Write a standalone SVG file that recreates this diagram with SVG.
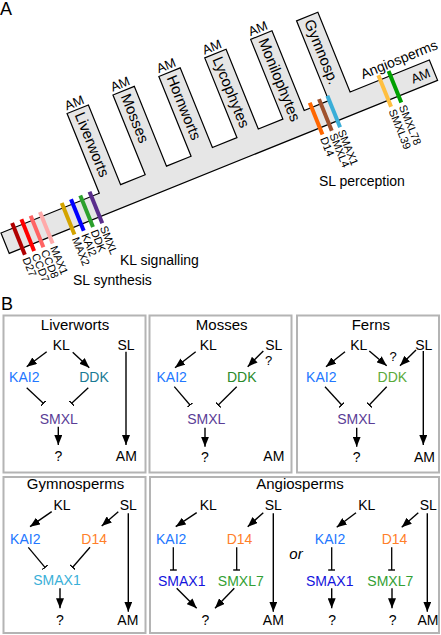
<svg xmlns="http://www.w3.org/2000/svg" width="441" height="635" viewBox="0 0 441 635">
<defs>
<marker id="ah" viewBox="0 0 10 8" refX="10" refY="4" markerWidth="10" markerHeight="8" markerUnits="userSpaceOnUse" orient="auto"><path d="M0,0 L10,4 L0,8 z" fill="#000"/></marker>
<marker id="tb" viewBox="0 0 1.4 7" refX="0.7" refY="3.5" markerWidth="1.4" markerHeight="7" markerUnits="userSpaceOnUse" orient="auto"><rect width="1.4" height="7" fill="#000"/></marker>
</defs>
<style>
text{font-family:"Liberation Sans",Arial,sans-serif;fill:#000}
.pl{font-size:18px}
.tooth{font-size:15px}
.am{font-size:13px}
.gene{font-size:11px}
.cap{font-size:14px}
.title{font-size:15px;text-anchor:middle}
.n{font-size:14px;text-anchor:middle}
.box{fill:#fff;stroke:#b4b4b4;stroke-width:2}
.bar{stroke-width:4}
.act{stroke:#000;stroke-width:1.4;fill:none;marker-end:url(#ah)}
.inh{stroke:#000;stroke-width:1.3;fill:none;marker-end:url(#tb)}
.kai2{fill:#2277ff}
.smxl{fill:#5a3d96}
.d14{fill:#ff7f2a}
</style>

<text class="pl" x="0" y="15">A</text>
<text class="pl" x="1" y="310">B</text>

<!-- Panel A tree (local frame along trunk) -->
<g id="tree" transform="translate(1,233) rotate(-22)">
  <path id="trunk" d="M0,0 H106 V-86 H129 V0 H155.5 V-86 H178.5 V0 H205 V-86 H228 V0 H254.5 V-86 H277.5 V0 H304 V-86 H327 V0 H353.5 V-86 H376.5 V0 H462 V22 H0 Z" fill="#e6e6e6" stroke="#000" stroke-width="1.2"/>
  <g id="clade-liverworts"><text class="am" x="107" y="-89">AM</text><text class="tooth" transform="translate(112.5,-82) rotate(90)">Liverworts</text></g>
  <g id="clade-mosses"><text class="tooth" transform="translate(162,-82) rotate(90)">Mosses</text></g>
  <g id="clade-hornworts"><text class="am" x="156.5" y="-89">AM</text><text class="tooth" transform="translate(211.5,-82) rotate(90)">Hornworts</text></g>
  <g id="clade-lycophytes"><text class="am" x="206" y="-89">AM</text><text class="tooth" transform="translate(261,-82) rotate(90)">Lycophytes</text></g>
  <g id="clade-monilophytes"><text class="am" x="255.5" y="-89">AM</text><text class="tooth" transform="translate(310.5,-82) rotate(90)">Monilophytes</text></g>
  <g id="clade-gymnosp"><text class="am" x="305" y="-89">AM</text><text class="tooth" transform="translate(360,-82) rotate(90)">Gymnosp.</text></g>
  <g id="clade-angiosperms"><text class="cap" x="434" y="-7" text-anchor="middle">Angiosperms</text><text class="am" x="448" y="16" text-anchor="middle">AM</text></g>
  <g id="genes">
    <line class="bar" x1="14" y1="-5" x2="14" y2="29" stroke="#b00000"/>
    <line class="bar" x1="24" y1="-5" x2="24" y2="29" stroke="#ff0000"/>
    <line class="bar" x1="34" y1="-5" x2="34" y2="29" stroke="#ff6464"/>
    <line class="bar" x1="44" y1="-5" x2="44" y2="29" stroke="#ffaaaa"/>
    <line class="bar" x1="67.5" y1="-5" x2="67.5" y2="29" stroke="#d4a400"/>
    <line class="bar" x1="77.5" y1="-5" x2="77.5" y2="29" stroke="#0000ff"/>
    <line class="bar" x1="87.5" y1="-5" x2="87.5" y2="29" stroke="#2ca02c"/>
    <line class="bar" x1="97.5" y1="-5" x2="97.5" y2="29" stroke="#5a2d8c"/>
    <line class="bar" x1="335" y1="-5" x2="335" y2="29" stroke="#ff6600"/>
    <line class="bar" x1="345" y1="-5" x2="345" y2="29" stroke="#a0522d"/>
    <line class="bar" x1="354" y1="-5" x2="354" y2="29" stroke="#3aaed8"/>
    <line class="bar" x1="409" y1="-5" x2="409" y2="29" stroke="#ffbf3f"/>
    <line class="bar" x1="420" y1="-5" x2="420" y2="29" stroke="#00a000"/>
    <text class="gene" transform="translate(10,32) rotate(90)">D27</text>
    <text class="gene" transform="translate(20,32) rotate(90)">CCD7</text>
    <text class="gene" transform="translate(30,32) rotate(90)">CCD8</text>
    <text class="gene" transform="translate(40,32) rotate(90)">MAX1</text>
    <text class="gene" transform="translate(63.5,32) rotate(90)">MAX2</text>
    <text class="gene" transform="translate(73.5,32) rotate(90)">KAI2</text>
    <text class="gene" transform="translate(83.5,32) rotate(90)">DDK</text>
    <text class="gene" transform="translate(93.5,32) rotate(90)">SMXL</text>
    <text class="gene" transform="translate(331,32) rotate(90)">D14</text>
    <text class="gene" transform="translate(341,32) rotate(90)">SMXL4</text>
    <text class="gene" transform="translate(350,32) rotate(90)">SMAX1</text>
    <text class="gene" transform="translate(405,32) rotate(90)">SMXL39</text>
    <text class="gene" transform="translate(416,32) rotate(90)">SMXL78</text>
  </g>
</g>
<text class="cap" x="120" y="265">KL signalling</text>
<text class="cap" x="73" y="285">SL synthesis</text>
<text class="cap" x="319" y="186">SL perception</text>

<!-- Panel B boxes -->
<g id="box-liverworts">
  <rect class="box" x="3.5" y="315.5" width="142" height="157"/>
  <text class="title" x="75" y="330">Liverworts</text>
  <text class="n" x="61.3" y="350">KL</text>
  <text class="n" x="126" y="350">SL</text>
  <text class="n kai2" x="24.3" y="382">KAI2</text>
  <text class="n" x="94" y="382" style="fill:#1b7a93">DDK</text>
  <text class="n smxl" x="58.8" y="424">SMXL</text>
  <text class="n" x="58.3" y="461">?</text>
  <text class="n" x="126.3" y="461">AM</text>
</g>
<g id="box-mosses">
  <rect class="box" x="149.5" y="315.5" width="142" height="157"/>
  <text class="title" x="221.7" y="330">Mosses</text>
  <text class="n" x="208.3" y="350">KL</text>
  <text class="n" x="273.7" y="350">SL</text>
  <text class="n" x="268.5" y="365" style="font-size:13px">?</text>
  <text class="n kai2" x="171.7" y="382">KAI2</text>
  <text class="n" x="241.7" y="382" style="fill:#2a8a2a">DDK</text>
  <text class="n smxl" x="206.2" y="424">SMXL</text>
  <text class="n" x="205" y="462">?</text>
  <text class="n" x="273.8" y="461">AM</text>
</g>
<g id="box-ferns">
  <rect class="box" x="297" y="315.5" width="142" height="157"/>
  <text class="title" x="370.8" y="330">Ferns</text>
  <text class="n" x="358.7" y="350">KL</text>
  <text class="n" x="423.8" y="350">SL</text>
  <text class="n" x="393" y="361" style="font-size:13px">?</text>
  <text class="n kai2" x="321.3" y="382">KAI2</text>
  <text class="n" x="392.3" y="382" style="fill:#5aaa3a">DDK</text>
  <text class="n smxl" x="356.3" y="424">SMXL</text>
  <text class="n" x="356.7" y="462">?</text>
  <text class="n" x="424.5" y="462">AM</text>
</g>
<g id="box-gymnosperms">
  <rect class="box" x="3.5" y="477" width="142" height="156"/>
  <text class="title" x="75.5" y="489">Gymnosperms</text>
  <text class="n" x="62" y="510">KL</text>
  <text class="n" x="128.3" y="510">SL</text>
  <text class="n kai2" x="25.3" y="544">KAI2</text>
  <text class="n d14" x="94.2" y="544">D14</text>
  <text class="n" x="57" y="585" style="fill:#3ab0d8">SMAX1</text>
  <text class="n" x="60" y="625">?</text>
  <text class="n" x="127.8" y="625">AM</text>
</g>
<g id="box-angiosperms">
  <rect class="box" x="150" y="477" width="289" height="156"/>
  <text class="title" x="300" y="489">Angiosperms</text>
  <text class="n" x="208.3" y="510">KL</text>
  <text class="n" x="273.3" y="510">SL</text>
  <text class="n kai2" x="171.2" y="544">KAI2</text>
  <text class="n d14" x="239.5" y="544">D14</text>
  <text class="n" x="181.7" y="586" style="fill:#1414dc">SMAX1</text>
  <text class="n" x="240.8" y="586" style="fill:#33a033">SMXL7</text>
  <text class="n" x="205.3" y="625">?</text>
  <text class="n" x="273.3" y="625">AM</text>
  <text class="n" x="296" y="559" style="font-style:italic;font-size:15px">or</text>
  <text class="n" x="366.7" y="510">KL</text>
  <text class="n" x="428.3" y="510">SL</text>
  <text class="n kai2" x="330" y="544">KAI2</text>
  <text class="n d14" x="394.5" y="544">D14</text>
  <text class="n" x="329.7" y="586" style="fill:#1414dc">SMAX1</text>
  <text class="n" x="390.3" y="586" style="fill:#33a033">SMXL7</text>
  <text class="n" x="332.2" y="625">?</text>
  <text class="n" x="392.7" y="625">?</text>
  <text class="n" x="428" y="625">AM</text>
</g>

<g id="connectors">
  <!-- Liverworts -->
  <line class="act" x1="46.7" y1="351.7" x2="26.7" y2="366.7"/>
  <line class="act" x1="72.7" y1="352.3" x2="89.3" y2="367.7"/>
  <line class="inh" x1="26.7" y1="387.7" x2="43.3" y2="403.3"/>
  <line class="inh" x1="88.3" y1="387.7" x2="71.7" y2="403.3"/>
  <line class="act" x1="58.3" y1="426.7" x2="58.3" y2="445"/>
  <line class="act" x1="126" y1="351.7" x2="126" y2="445"/>
  <!-- Mosses -->
  <line class="act" x1="195.7" y1="351.7" x2="175" y2="367.7"/>
  <line class="act" x1="263.3" y1="351" x2="247.7" y2="366.7"/>
  <line class="inh" x1="174.3" y1="386.7" x2="190" y2="405"/>
  <line class="inh" x1="236.7" y1="386.7" x2="218.3" y2="405"/>
  <line class="act" x1="205" y1="427.7" x2="205" y2="446.7"/>
  <!-- Ferns -->
  <line class="act" x1="345" y1="351.7" x2="326" y2="366.7"/>
  <line class="act" x1="369.3" y1="351" x2="386.7" y2="365.7"/>
  <line class="act" x1="416" y1="350" x2="400" y2="365.7"/>
  <line class="inh" x1="325" y1="386.7" x2="341.7" y2="405"/>
  <line class="inh" x1="386.7" y1="386.7" x2="369.3" y2="405"/>
  <line class="act" x1="356.7" y1="427.7" x2="356.7" y2="446.7"/>
  <line class="act" x1="423.3" y1="351" x2="423.3" y2="445"/>
  <!-- Gymnosperms -->
  <line class="act" x1="51.7" y1="511.7" x2="30" y2="526.7"/>
  <line class="act" x1="118.3" y1="511.7" x2="101.7" y2="526"/>
  <line class="inh" x1="28.3" y1="547.3" x2="45" y2="567.3"/>
  <line class="inh" x1="90" y1="547.3" x2="72.7" y2="567.3"/>
  <line class="act" x1="60" y1="588.3" x2="60" y2="608.3"/>
  <line class="act" x1="128.3" y1="513.3" x2="128.3" y2="611.7"/>
  <!-- Angiosperms left -->
  <line class="act" x1="196.7" y1="512.7" x2="175.7" y2="526.7"/>
  <line class="act" x1="263.3" y1="512.7" x2="247.7" y2="526.7"/>
  <line class="inh" x1="173.3" y1="547.3" x2="173.3" y2="570"/>
  <line class="inh" x1="236.7" y1="547.3" x2="236.7" y2="570"/>
  <line class="act" x1="176.7" y1="588.3" x2="196.7" y2="608.3"/>
  <line class="act" x1="234.3" y1="588.3" x2="215" y2="608.3"/>
  <line class="act" x1="273.3" y1="513.3" x2="273.3" y2="611.7"/>
  <!-- Angiosperms right -->
  <line class="act" x1="356" y1="512.7" x2="336.7" y2="527.3"/>
  <line class="act" x1="418.3" y1="512.7" x2="401.7" y2="527.3"/>
  <line class="inh" x1="331.7" y1="547.3" x2="331.7" y2="570"/>
  <line class="inh" x1="391.7" y1="547.3" x2="391.7" y2="570"/>
  <line class="act" x1="331.7" y1="588.3" x2="331.7" y2="608.3"/>
  <line class="act" x1="392" y1="588.3" x2="392" y2="608.3"/>
  <line class="act" x1="427.3" y1="513.3" x2="427.3" y2="611.7"/>
</g>
</svg>
